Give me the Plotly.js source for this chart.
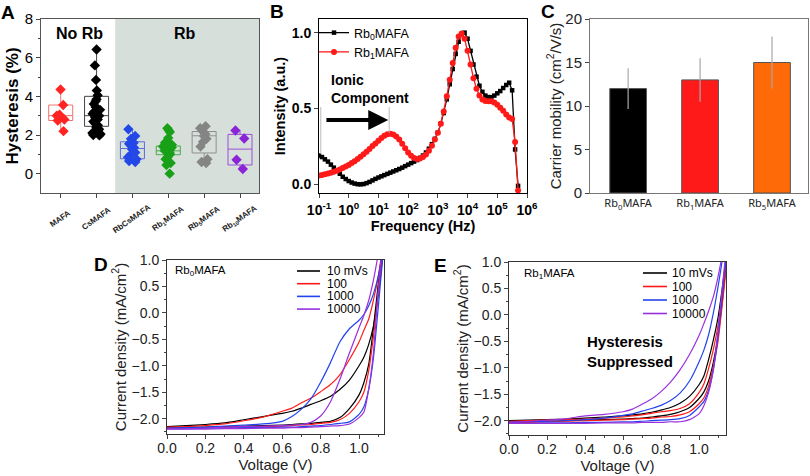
<!DOCTYPE html>
<html><head><meta charset="utf-8">
<script src="https://cdn.plot.ly/plotly-3.0.1.min.js"></script>
<style>html,body{margin:0;padding:0;background:#fff}#chart{width:810px;height:476px}</style>
</head><body><div id="chart"></div>
<script>
// ---------- Panel A data ----------
const catsA = ['MAFA','CsMAFA','RbCsMAFA','Rb1MAFA','Rb5MAFA','Rb10MAFA'];
const catLabelsA = ['MAFA','CsMAFA','RbCsMAFA','Rb<sub>1</sub>MAFA','Rb<sub>5</sub>MAFA','Rb<sub>10</sub>MAFA'];
const hystMAFA = [4.35, 3.55, 3.05, 3.0, 2.8, 2.75, 2.2];
const hystCsMAFA = [6.42, 5.6, 4.85, 4.3, 4.05, 3.85, 3.75, 3.6, 3.45, 3.3, 3.2, 3.1, 3.0, 2.9, 2.8, 2.7, 2.6, 2.5, 2.4, 2.3, 2.2, 2.1, 2.05, 2.0, 1.98];
const hystRbCsMAFA = [2.3, 1.95, 1.8, 1.6, 1.55, 1.45, 1.35, 1.25, 1.1, 1.0, 0.85, 0.75, 0.65, 0.6];
const hystRb1MAFA = [2.35, 2.25, 2.15, 1.85, 1.65, 1.6, 1.55, 1.5, 1.45, 1.4, 1.35, 1.3, 1.25, 1.2, 1.15, 1.1, 1.05, 1.0, 0.85, 0.75, 0.55, 0.45, 0.0];
const hystRb5MAFA = [2.45, 2.35, 2.2, 2.05, 1.95, 1.8, 1.65, 1.4, 0.75, 0.6, 0.55];
const hystRb10MAFA = [2.23, 1.82, 0.72, 0.24];
// box statistics
const boxQ1 = [2.75, 2.45, 0.77, 0.98, 1.07, 0.45];
const boxMedian = [3.0, 3.0, 1.3, 1.18, 1.96, 1.27];
const boxQ3 = [3.55, 4.0, 1.65, 1.43, 2.18, 2.03];
const boxLow = [2.2, 1.98, 0.6, 0.45, 0.55, 0.24];
const boxHigh = [4.35, 6.42, 2.3, 2.35, 2.45, 2.23];

// ---------- Panel B data ----------
const freqHz = [0.1,0.126,0.158,0.2,0.251,0.316,0.398,0.501,0.631,0.794,
 1,1.26,1.58,2,2.51,3.16,3.98,5.01,6.31,7.94,
 10,12.6,15.8,20,25.1,31.6,39.8,50.1,63.1,79.4,
 100,126,158,200,251,316,398,501,631,794,
 1000,1260,1580,2000,2510,3160,3980,5010,6310,7940,
 10000,12600,15800,20000,25100,31600,39800,50100,63100,79400,
 100000,126000,158000,200000,251000,316000,398000,501000];
const intRb0 = [0.19,0.18,0.165,0.15,0.13,0.11,0.09,0.07,0.05,0.035,
 0.022,0.012,0.005,0.001,0.0,0.002,0.008,0.016,0.026,0.036,
 0.045,0.053,0.061,0.069,0.077,0.085,0.093,0.101,0.11,0.12,
 0.13,0.14,0.15,0.16,0.175,0.19,0.21,0.235,0.265,0.3,
 0.34,0.4,0.47,0.56,0.66,0.76,0.86,0.94,0.99,1.0,
 0.96,0.88,0.79,0.71,0.65,0.61,0.585,0.575,0.575,0.585,
 0.6,0.615,0.635,0.655,0.67,0.62,0.23,-0.01];
const intRb1 = [0.058,0.062,0.067,0.072,0.077,0.083,0.09,0.098,0.107,0.117,
 0.128,0.14,0.153,0.167,0.182,0.198,0.215,0.233,0.252,0.27,
 0.288,0.305,0.32,0.33,0.333,0.328,0.315,0.295,0.268,0.238,
 0.21,0.188,0.173,0.167,0.17,0.18,0.197,0.222,0.255,0.295,
 0.34,0.4,0.48,0.58,0.69,0.8,0.9,0.975,0.995,0.96,
 0.88,0.79,0.7,0.63,0.585,0.56,0.55,0.548,0.548,0.54,
 0.525,0.505,0.485,0.46,0.44,0.43,0.28,-0.04];
const freqTickVals = [0.1,1,10,100,1000,10000,100000,1000000];
const freqTickText = ['<b>10<sup>-1</sup></b>','<b>10<sup>0</sup></b>','<b>10<sup>1</sup></b>','<b>10<sup>2</sup></b>','<b>10<sup>3</sup></b>','<b>10<sup>4</sup></b>','<b>10<sup>5</sup></b>','<b>10<sup>6</sup></b>'];

// ---------- Panel C data ----------
const samplesC = ['Rb<sub>0</sub>MAFA','Rb<sub>1</sub>MAFA','Rb<sub>5</sub>MAFA'];
const mobility = [12.0, 13.0, 15.0];
const mobilityErr = [2.35, 2.5, 3.0];

// ---------- Panels D/E data ----------
const scanNames = ['10 mVs','100','1000','10000'];
const voltage = [0,0.1,0.2,0.3,0.4,0.5,0.6,0.65,0.7,0.75,0.8,0.85,0.9,0.95,1.0,1.025,1.05,1.075,1.1,1.125,1.15];
// Rb0MAFA (D)
const D_fwd10 =    [-2.15,-2.13,-2.11,-2.08,-2.02,-1.96,-1.90,-1.86,-1.80,-1.73,-1.66,-1.58,-1.45,-1.27,-1.00,-0.84,-0.60,-0.25,0.35,1.15,2.2];
const D_fwd100 =   [-2.16,-2.15,-2.13,-2.10,-2.04,-1.97,-1.86,-1.80,-1.70,-1.61,-1.49,-1.36,-1.17,-0.88,-0.55,-0.33,-0.12,0.24,0.69,1.3,2.0];
const D_fwd1000 =  [-2.18,-2.17,-2.16,-2.14,-2.12,-2.10,-2.05,-1.96,-1.82,-1.62,-1.31,-0.95,-0.55,-0.30,-0.14,-0.03,0.13,0.36,0.69,1.2,1.8];
const D_fwd10000 = [-2.19,-2.19,-2.18,-2.16,-2.15,-2.14,-2.13,-2.12,-2.11,-2.07,-1.95,-1.69,-1.26,-0.76,-0.28,-0.05,0.23,0.62,1.12,1.7,2.3];
const D_rev10 =    [-2.17,-2.17,-2.16,-2.15,-2.14,-2.13,-2.12,-2.11,-2.10,-2.09,-2.07,-2.05,-1.98,-1.81,-1.55,-1.32,-0.98,-0.28,0.55,1.3,2.2];
const D_rev100 =   [-2.18,-2.18,-2.17,-2.16,-2.15,-2.15,-2.14,-2.13,-2.12,-2.11,-2.09,-2.07,-2.02,-1.90,-1.68,-1.50,-1.10,-0.45,0.35,1.2,2.0];
const D_rev1000 =  [-2.19,-2.19,-2.18,-2.18,-2.17,-2.17,-2.16,-2.16,-2.15,-2.14,-2.13,-2.11,-2.09,-2.06,-1.92,-1.78,-1.45,-0.85,0.1,1.1,2.0];
const D_rev10000 = [-2.20,-2.20,-2.20,-2.19,-2.19,-2.18,-2.18,-2.17,-2.17,-2.16,-2.15,-2.14,-2.13,-2.10,-1.98,-1.88,-1.45,-0.75,0.45,1.4,2.4];
// Rb1MAFA (E)
const E_fwd10 =    [-2.00,-1.99,-1.98,-1.97,-1.95,-1.93,-1.91,-1.89,-1.87,-1.84,-1.80,-1.75,-1.67,-1.54,-1.32,-1.16,-0.85,-0.48,-0.05,0.58,1.3];
const E_fwd100 =   [-2.01,-2.00,-1.99,-1.98,-1.97,-1.95,-1.93,-1.91,-1.89,-1.86,-1.83,-1.81,-1.77,-1.68,-1.47,-1.31,-1.02,-0.66,-0.2,0.45,1.2];
const E_fwd1000 =  [-2.03,-2.02,-2.01,-2.00,-1.98,-1.95,-1.90,-1.87,-1.82,-1.77,-1.71,-1.62,-1.48,-1.25,-0.89,-0.67,-0.38,0.03,0.53,1.1,1.8];
const E_fwd10000 = [-2.03,-2.01,-1.99,-1.96,-1.91,-1.88,-1.83,-1.78,-1.69,-1.59,-1.45,-1.27,-1.04,-0.75,-0.39,-0.17,0.07,0.34,0.72,1.2,1.8];
const E_rev10 =    [-2.02,-2.02,-2.01,-2.00,-1.99,-1.98,-1.97,-1.96,-1.95,-1.93,-1.91,-1.88,-1.83,-1.75,-1.58,-1.46,-1.25,-0.90,-0.40,0.35,1.2];
const E_rev100 =   [-2.03,-2.03,-2.02,-2.01,-2.00,-1.99,-1.98,-1.97,-1.96,-1.95,-1.93,-1.92,-1.89,-1.83,-1.68,-1.57,-1.35,-0.98,-0.50,0.28,1.1];
const E_rev1000 =  [-2.05,-2.05,-2.04,-2.04,-2.03,-2.03,-2.02,-2.02,-2.01,-2.00,-1.99,-1.98,-1.96,-1.90,-1.74,-1.64,-1.43,-1.05,-0.40,0.45,1.3];
const E_rev10000 = [-2.05,-2.05,-2.05,-2.05,-2.05,-2.04,-2.04,-2.04,-2.03,-2.03,-2.03,-2.02,-2.02,-1.98,-1.87,-1.72,-1.47,-1.04,-0.29,0.6,1.5];

// ---------- styling ----------
const FONT = 'Liberation Sans, Arial, sans-serif';
const colA = ['#ff2424','#000000','#2448e8','#18a018','#858585','#8a24d6'];
const colBoxA = ['#f07070','#444444','#5a6ed8','#48aa48','#8f8f8f','#9a50d8'];
const ptsA = [hystMAFA, hystCsMAFA, hystRbCsMAFA, hystRb1MAFA, hystRb5MAFA, hystRb10MAFA];
const colJV = ['#000000','#ff1a1a','#2244ee','#9a30dc'];
const colC = ['#000000','#ff1a1a','#ff6a08'];

const traces = [];
// Panel A: boxes from statistics
catsA.forEach((c,i)=>{
  traces.push({type:'box', xaxis:'x', yaxis:'y', x:[c], q1:[boxQ1[i]], median:[boxMedian[i]], q3:[boxQ3[i]],
    lowerfence:[boxLow[i]], upperfence:[boxHigh[i]], width:0.67, whiskerwidth:0,
    line:{color:colBoxA[i], width:1}, fillcolor:'rgba(0,0,0,0)', showlegend:false, hoverinfo:'skip'});
});
// Panel A: individual points
catsA.forEach((c,i)=>{
  traces.push({type:'box', xaxis:'x', yaxis:'y', x:ptsA[i].map(()=>c), y:ptsA[i], width:0.67,
    boxpoints:'all', jitter:0.45, pointpos:0, line:{color:'rgba(0,0,0,0)', width:0}, fillcolor:'rgba(0,0,0,0)',
    marker:{symbol:'diamond', size:8, color:colA[i]}, showlegend:false});
});
// Panel B
traces.push({type:'scatter', mode:'lines+markers', xaxis:'x2', yaxis:'y2', x:freqHz, y:intRb0, name:'Rb<sub>0</sub>MAFA',
  line:{color:'#000', width:1.3}, marker:{symbol:'square', size:4.5, color:'#000'}, legend:'legend'});
traces.push({type:'scatter', mode:'lines+markers', xaxis:'x2', yaxis:'y2', x:freqHz, y:intRb1, name:'Rb<sub>1</sub>MAFA',
  line:{color:'#ff1a1a', width:1.3}, marker:{symbol:'circle', size:6, color:'#ff1a1a'}, legend:'legend'});
// Panel C
traces.push({type:'bar', xaxis:'x3', yaxis:'y3', x:samplesC, y:mobility, width:0.51,
  marker:{color:colC, line:{color:'#555', width:1}},
  error_y:{type:'data', array:mobilityErr, visible:true, color:'#a8a8a8', thickness:1.2, width:0}, showlegend:false});
// Panels D/E
const Dfwd=[D_fwd10,D_fwd100,D_fwd1000,D_fwd10000], Drev=[D_rev10,D_rev100,D_rev1000,D_rev10000];
const Efwd=[E_fwd10,E_fwd100,E_fwd1000,E_fwd10000], Erev=[E_rev10,E_rev100,E_rev1000,E_rev10000];
[[Dfwd,Drev,'x4','y4'],[Efwd,Erev,'x5','y5']].forEach(([F,R,xa,ya])=>{
  scanNames.forEach((n,i)=>{
    traces.push({type:'scatter', mode:'lines', xaxis:xa, yaxis:ya, x:voltage, y:F[i], name:n, showlegend:false,
      line:{color:colJV[i], width:1.2, shape:'spline', smoothing:0.6}});
    traces.push({type:'scatter', mode:'lines', xaxis:xa, yaxis:ya, x:voltage, y:R[i], name:n, showlegend:false,
      line:{color:colJV[i], width:1.2, shape:'spline', smoothing:0.6}});
  });
});

const frame = {showline:true, mirror:true, linecolor:'#333', linewidth:1, showgrid:false, zeroline:false};
const dom = {A:[41/810,259/810], B:[319/810,527/810], C:[590/810,808/810], D:[167/810,384/810], E:[509/810,726/810]};
const topY = [1-193/476, 1-19/476];

const annotations = [];
const shapes = [
  {type:'rect', xref:'x', yref:'y domain', x0:1.52, x1:5.53, y0:0, y1:1, fillcolor:'#d6dfda', line:{width:0}, layer:'below'},
  {type:'line', xref:'x2', yref:'y2', x0:0.115, x1:0.115, y0:0.2, y1:0.51, line:{color:'#bbb', width:1}},
  {type:'line', xref:'x2', yref:'y2', x0:23, x1:23, y0:0.34, y1:0.51, line:{color:'#bbb', width:1}}
];
const panelLab = [['A',8,12],['B',277,11],['C',548,11],['D',101,264],['E',441,265]];
panelLab.forEach(([t,px,py])=>annotations.push({text:'<b>'+t+'</b>', xref:'paper', yref:'paper', x:px/810, y:1-py/476,
  showarrow:false, xanchor:'center', yanchor:'middle', font:{size:19, color:'#000', family:FONT}}));
catsA.forEach((c,i)=>annotations.push({text:'<b>'+catLabelsA[i]+'</b>', xref:'x', yref:'paper', x:i, y:1-219/476,
  textangle:-35, showarrow:false, xanchor:'center', yanchor:'middle', font:{size:8, color:'#222', family:FONT}}));
annotations.push({text:'<b>No Rb</b>', xref:'x', yref:'y', x:0.53, y:7.27, showarrow:false, font:{size:16, family:FONT, color:'#000'}});
annotations.push({text:'<b>Rb</b>', xref:'x', yref:'y', x:3.46, y:7.27, showarrow:false, font:{size:16, family:FONT, color:'#000'}});
annotations.push({text:'<b>Ionic<br>Component</b>', xref:'x2', yref:'y2', x:-0.66, y:0.63, xanchor:'left', align:'left',
  showarrow:false, font:{size:14, family:FONT, color:'#000'}});
annotations.push({text:'', xref:'x2', yref:'y2', x:1.33, y:0.424, axref:'x2', ayref:'y2', ax:-0.8, ay:0.424,
  showarrow:true, arrowhead:2, arrowsize:1, arrowwidth:4, arrowcolor:'#000'});
annotations.push({text:'Rb<sub>0</sub>MAFA', xref:'x4', yref:'y4', x:0.03, y:0.79, xanchor:'left', showarrow:false, font:{size:11.5, family:FONT, color:'#000'}});
annotations.push({text:'Rb<sub>1</sub>MAFA', xref:'x5', yref:'y5', x:0.068, y:0.77, xanchor:'left', showarrow:false, font:{size:11.5, family:FONT, color:'#000'}});
annotations.push({text:'<b>Hysteresis<br>Suppressed</b>', xref:'x5', yref:'y5', x:0.4, y:-0.69, xanchor:'left', align:'left',
  showarrow:false, font:{size:15, family:FONT, color:'#000'}});

// compact legends for panels D and E (line sample + label per scan rate)
const legendBoxes = [{x0:297, x1:320, tx:325, rows:[271,283.7,296.4,309.1]}, {x0:643, x1:667, tx:670, rows:[273,286.5,300,313.5]}];
legendBoxes.forEach(L=>{
  scanNames.forEach((n,i)=>{
    shapes.push({type:'line', xref:'paper', yref:'paper', x0:L.x0/810, x1:L.x1/810, y0:1-L.rows[i]/476, y1:1-L.rows[i]/476,
      line:{color:colJV[i], width:1.6}});
    annotations.push({text:n, xref:'paper', yref:'paper', x:L.tx/810, y:1-L.rows[i]/476, xanchor:'left', yanchor:'middle',
      showarrow:false, font:{size:12, family:FONT, color:'#000'}});
  });
});

const jvY = {tickvals:[-2,-1.5,-1,-0.5,0,0.5,1], tickformat:'.1f', ticks:'outside', ticklen:4,
  minor:{dtick:0.25, ticks:'outside', ticklen:2}, tickfont:{size:14, family:FONT, color:'#222'},
  title:{text:'Current density (mA/cm<sup>2</sup>)', font:{size:15, family:FONT, color:'#222'}, standoff:1}};
const jvX = {dtick:0.2, tickformat:'.1f', ticks:'outside', ticklen:4, ticklabelstandoff:-3, minor:{dtick:0.1, ticks:'outside', ticklen:2},
  tickfont:{size:14, family:FONT, color:'#222'}, title:{text:'Voltage (V)', font:{size:15, family:FONT, color:'#222'}, standoff:3}};

const layout = {
  width:810, height:476, margin:{l:0,r:0,t:0,b:0}, paper_bgcolor:'#fff', plot_bgcolor:'#fff',
  font:{family:FONT, color:'#000'}, boxmode:'overlay', bargap:0.49,
  xaxis:Object.assign({}, frame, {domain:dom.A, anchor:'y', type:'category', range:[-0.55,5.53], showticklabels:false,
    ticks:'outside', ticklen:4, linecolor:'#555'}),
  yaxis:Object.assign({}, frame, {domain:topY, anchor:'x', range:[-1,8], tickvals:[0,2,4,6,8], ticks:'outside', ticklen:4,
    minor:{tickvals:[1,3,5,7], ticks:'outside', ticklen:2}, linecolor:'#555', tickfont:{size:15, family:FONT},
    title:{text:'<b>Hysteresis (%)</b>', font:{size:17, family:FONT}, standoff:1}}),
  xaxis2:Object.assign({}, frame, {domain:dom.B, anchor:'y2', type:'log', range:[-1,6], tickvals:freqTickVals, ticktext:freqTickText,
    ticks:'outside', ticklen:4, linecolor:'#000', tickfont:{size:14, family:FONT},
    title:{text:'<b>Frequency (Hz)</b>', font:{size:14.5, family:FONT}, standoff:0}}),
  yaxis2:Object.assign({}, frame, {domain:topY, anchor:'x2', range:[-0.057,1.09], tickvals:[0,0.5,1], ticktext:['<b>0.0</b>','<b>0.5</b>','<b>1.0</b>'],
    ticks:'outside', ticklen:4, linecolor:'#000', tickfont:{size:14, family:FONT},
    title:{text:'<b>Intensity (a.u.)</b>', font:{size:14.5, family:FONT}, standoff:2}}),
  xaxis3:Object.assign({}, frame, {domain:dom.C, anchor:'y3', type:'category', range:[-0.53,2.5], ticks:'', linecolor:'#777',
    tickfont:{size:11, family:'Noto Sans, sans-serif', color:'#222'}}),
  yaxis3:Object.assign({}, frame, {domain:topY, anchor:'x3', range:[0,20], dtick:5, ticks:'outside', ticklen:4, linecolor:'#777',
    tickfont:{size:15, family:FONT, color:'#222'},
    title:{text:'Carrier mobility (cm<sup>2</sup>/V/s)', font:{size:15, family:FONT, color:'#222'}, standoff:0}}),
  xaxis4:Object.assign({}, frame, jvX, {domain:dom.D, anchor:'y4', range:[0,1.13]}),
  yaxis4:Object.assign({}, frame, jvY, {domain:[1-434/476,1-260/476], anchor:'x4', range:[-2.29,1.0]}),
  xaxis5:Object.assign({}, frame, jvX, {domain:dom.E, anchor:'y5', range:[0,1.142]}),
  yaxis5:Object.assign({}, frame, jvY, {domain:[1-435/476,1-262/476], anchor:'x5', range:[-2.27,1.0]}),
  legend:{x:314/810, y:1-18/476, xanchor:'left', yanchor:'top', bgcolor:'rgba(0,0,0,0)', font:{size:12.5, family:FONT}, itemwidth:30, tracegroupgap:0},
  annotations:annotations, shapes:shapes
};
Plotly.newPlot('chart', traces, layout, {displayModeBar:false, staticPlot:true});
</script></body></html>
